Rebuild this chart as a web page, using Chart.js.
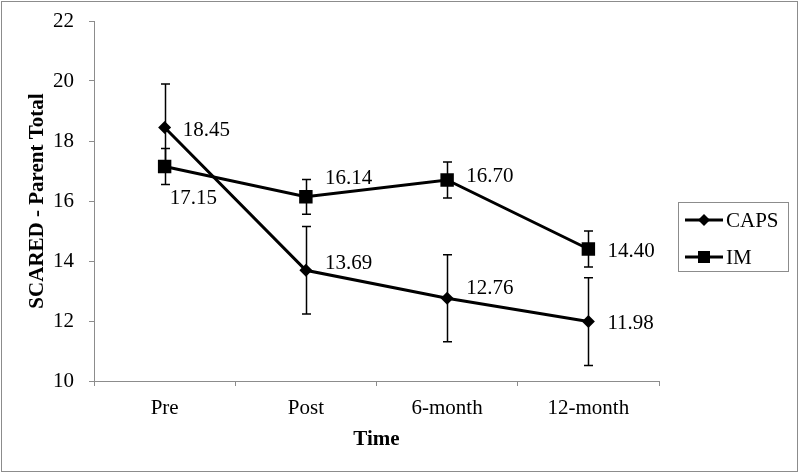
<!DOCTYPE html>
<html>
<head>
<meta charset="utf-8">
<script src="https://cdn.jsdelivr.net/npm/chart.js@4/dist/chart.umd.min.js"></script>
<style>
  html, body { margin: 0; padding: 0; background: #fff; }
  canvas { display: block; }
</style>
</head>
<body>
<canvas id="c" width="800" height="474"></canvas>
<script>
// ---- data ----
const categories = ['Pre', 'Post', '6-month', '12-month'];
const capsMeans = [18.45, 13.69, 12.76, 11.98];
const capsErrors = [1.45, 1.46, 1.45, 1.46];
const imMeans = [17.15, 16.14, 16.70, 14.40];
const imErrors = [0.60, 0.58, 0.60, 0.60];
const yMin = 10, yMax = 22, yStep = 2;
const seriesNames = ['CAPS', 'IM'];
const yTitle = 'SCARED - Parent Total';
const xTitle = 'Time';

const FONT = 'Liberation Serif';

// label placement (style only): dx, dy from the point, per series
const labelOffsets = [
  [[18, 2.5], [19, -7], [19, -10], [19, 1.5]],
  [[5, 31.5], [19, -18], [19, -4], [19, 2]]
];
const errorSets = [capsErrors, imErrors];

const decorPlugin = {
  id: 'decor',
  beforeDraw(chart) {
    const ctx = chart.ctx;
    ctx.save();
    ctx.fillStyle = '#fff';
    ctx.fillRect(0, 0, chart.width, chart.height);
    ctx.strokeStyle = '#8c8c8c';
    ctx.lineWidth = 1;
    ctx.strokeRect(1.5, 1.5, 796, 470);
    ctx.restore();
  },
  beforeDatasetsDraw(chart) {
    const ctx = chart.ctx;
    const y = chart.scales.y;
    ctx.save();
    ctx.strokeStyle = '#000';
    ctx.lineWidth = 1.5;
    chart.data.datasets.forEach((ds, di) => {
      const meta = chart.getDatasetMeta(di);
      meta.data.forEach((pt, i) => {
        const e = errorSets[di][i];
        const v = ds.data[i];
        const yt = y.getPixelForValue(v + e);
        const yb = y.getPixelForValue(v - e);
        const x = Math.round(pt.x) + 0.5;
        ctx.beginPath();
        ctx.moveTo(x, yt); ctx.lineTo(x, yb);
        ctx.moveTo(x - 4.5, yt); ctx.lineTo(x + 4.5, yt);
        ctx.moveTo(x - 4.5, yb); ctx.lineTo(x + 4.5, yb);
        ctx.stroke();
      });
    });
    ctx.restore();
  },
  afterDatasetsDraw(chart) {
    const ctx = chart.ctx;
    ctx.save();
    ctx.fillStyle = '#000';
    ctx.font = '21px "' + FONT + '"';
    ctx.textAlign = 'left';
    ctx.textBaseline = 'middle';
    chart.data.datasets.forEach((ds, di) => {
      const meta = chart.getDatasetMeta(di);
      meta.data.forEach((pt, i) => {
        const off = labelOffsets[di][i];
        ctx.fillText(ds.data[i].toFixed(2), pt.x + off[0], pt.y + off[1]);
      });
    });
    // legend
    ctx.strokeStyle = '#8c8c8c';
    ctx.lineWidth = 1;
    ctx.strokeRect(678.5, 202.5, 110, 69);
    const rows = [220, 257];
    chart.data.datasets.forEach((ds, di) => {
      const yy = rows[di];
      ctx.strokeStyle = '#000';
      ctx.lineWidth = 3;
      ctx.beginPath();
      ctx.moveTo(685, yy); ctx.lineTo(723, yy);
      ctx.stroke();
      ctx.fillStyle = '#000';
      ctx.beginPath();
      if (ds.pointStyle === 'rectRot') {
        const r = 6;
        ctx.moveTo(704, yy - r); ctx.lineTo(704 + r, yy); ctx.lineTo(704, yy + r); ctx.lineTo(704 - r, yy);
        ctx.closePath();
      } else {
        ctx.rect(704 - 6, yy - 6, 12, 12);
      }
      ctx.fill();
      ctx.fillText(ds.label, 726, yy + 1);
    });
    ctx.restore();
  }
};

new Chart(document.getElementById('c'), {
  type: 'line',
  data: {
    labels: categories,
    datasets: [
      {
        label: seriesNames[0],
        data: capsMeans,
        borderColor: '#000',
        backgroundColor: '#000',
        borderWidth: 3,
        pointStyle: 'rectRot',
        pointRadius: 6.5,
        pointBorderWidth: 0,
        pointBackgroundColor: '#000',
        tension: 0
      },
      {
        label: seriesNames[1],
        data: imMeans,
        borderColor: '#000',
        backgroundColor: '#000',
        borderWidth: 3,
        pointStyle: 'rect',
        pointRadius: 9.5,
        pointBorderWidth: 0,
        pointBackgroundColor: '#000',
        tension: 0
      }
    ]
  },
  options: {
    responsive: false,
    animation: false,
    events: [],
    layout: { padding: { left: 0, right: 141, top: 21, bottom: 0 } },
    plugins: {
      legend: { display: false },
      tooltip: { enabled: false }
    },
    scales: {
      x: {
        type: 'category',
        offset: true,
        afterFit(scale) { scale.height = 93; scale.paddingLeft = 0; scale.paddingRight = 0; },
        border: { display: true, color: '#8c8c8c', width: 1 },
        grid: { display: true, offset: true, drawOnChartArea: false, drawTicks: true, tickLength: 5, color: '#8c8c8c' },
        ticks: { color: '#000', padding: 10, font: { family: FONT, size: 21 }, maxRotation: 0 },
        title: { display: true, text: xTitle, color: '#000', font: { family: FONT, size: 21, weight: 'bold' }, padding: { top: 0, bottom: 22 } }
      },
      y: {
        min: yMin,
        max: yMax,
        afterFit(scale) { scale.width = 94; scale.paddingTop = 0; scale.paddingBottom = 0; },
        border: { display: true, color: '#8c8c8c', width: 1 },
        grid: { display: true, drawOnChartArea: false, drawTicks: true, tickLength: 5, color: '#8c8c8c' },
        ticks: { stepSize: yStep, color: '#000', padding: 15, font: { family: FONT, size: 21 } },
        title: { display: true, text: yTitle, color: '#000', font: { family: FONT, size: 21, weight: 'bold', lineHeight: 1 }, padding: { top: 27, bottom: 0 } }
      }
    }
  },
  plugins: [decorPlugin]
});
</script>
</body>
</html>
